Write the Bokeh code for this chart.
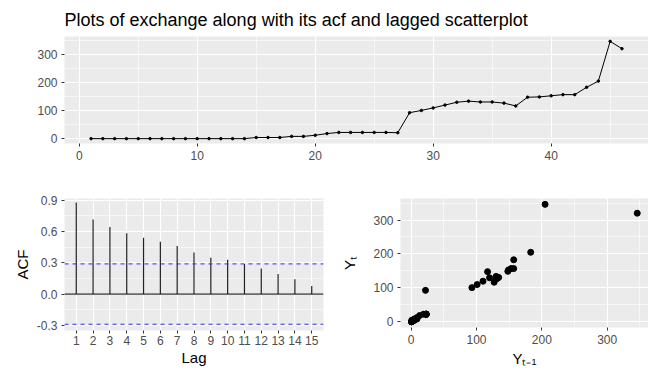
from bokeh.plotting import figure
from bokeh.layouts import column, row
from bokeh.models import FixedTicker, Range1d, Span, CustomJSTickFormatter
from bokeh.embed import file_html
from bokeh.resources import INLINE

# ---- data ----
time_index = list(range(1, 47))
exchange = [1, 1, 1, 1, 1, 1, 1, 1, 1, 1, 1, 1, 1, 1,
            5, 5, 5, 9, 9, 13, 19, 23, 23, 23, 23, 23, 22,
            93, 101, 110, 120, 130, 134, 131, 131, 127, 117,
            148, 149, 153, 157, 157, 183, 205, 346, 320]
acf_lags = list(range(1, 16))
acf_values = [0.877, 0.714, 0.642, 0.582, 0.540, 0.501, 0.460, 0.399,
              0.347, 0.328, 0.289, 0.244, 0.193, 0.141, 0.077]
conf_limit = 0.289
lag_prev = exchange[:-1]
lag_curr = exchange[1:]

title_text = "Plots of exchange along with its acf and lagged scatterplot"

FONT = "Liberation Sans"


def style(p, xt, xminor, yt, yminor):
    p.background_fill_color = "#EBEBEB"
    p.border_fill_color = "white"
    p.outline_line_color = None
    p.xaxis.ticker = FixedTicker(ticks=xt, minor_ticks=xminor)
    p.yaxis.ticker = FixedTicker(ticks=yt, minor_ticks=yminor)
    p.xgrid.ticker = FixedTicker(ticks=xt, minor_ticks=xminor)
    p.ygrid.ticker = FixedTicker(ticks=yt, minor_ticks=yminor)
    for g in (p.xgrid, p.ygrid):
        g.grid_line_color = "white"
        g.grid_line_width = 1.1
        g.minor_grid_line_color = "white"
        g.minor_grid_line_width = 0.55
    for ax in p.axis:
        ax.axis_line_color = None
        ax.major_tick_line_color = "#333333"
        ax.major_tick_out = 3
        ax.major_tick_in = 0
        ax.minor_tick_line_color = None
        ax.major_label_text_color = "#4D4D4D"
        ax.major_label_text_font = FONT
        ax.major_label_text_font_size = "12px"
        ax.major_label_standoff = 3
        ax.axis_label_text_font = FONT
        ax.axis_label_text_font_style = "normal"
        ax.axis_label_text_font_size = "15px"
        ax.axis_label_text_color = "black"
        ax.axis_label_standoff = 3


# ---- top: time series ----
p1 = figure(width=648, height=178, output_backend="svg", toolbar_location=None,
            x_range=Range1d(-1.25, 48.25), y_range=Range1d(-16.25, 363.25),
            min_border_left=64, min_border_right=0, min_border_top=35,
            min_border_bottom=35, title=title_text)
p1.title.text_font = FONT
p1.title.text_font_size = "18px"
p1.title.text_font_style = "normal"
p1.title.text_color = "black"
p1.title.align = "left"
p1.title.standoff = 14
style(p1, [0, 10, 20, 30, 40], [5, 15, 25, 35, 45], [0, 100, 200, 300], [50, 150, 250, 350])
p1.line(time_index, exchange, line_color="black", line_width=1)
p1.scatter(time_index, exchange, size=2.5, color="black")

# ---- bottom left: ACF ----
p2 = figure(width=338, height=195, output_backend="svg", toolbar_location=None,
            x_range=Range1d(0.3, 15.7), y_range=Range1d(-0.349, 0.916),
            min_border_left=64, min_border_right=15, min_border_top=20,
            min_border_bottom=43)
style(p2, acf_lags, [], [-0.3, 0.0, 0.3, 0.6, 0.9], [-0.15, 0.15, 0.45, 0.75])
p2.xaxis.major_label_standoff = 2
p2.xaxis.axis_label_standoff = 1
p2.yaxis.formatter = CustomJSTickFormatter(code="return tick.toFixed(1);")
p2.xaxis.axis_label = "Lag"
p2.yaxis.axis_label = "ACF"
p2.add_layout(Span(location=0, dimension="width", line_color="black", line_width=1))
p2.add_layout(Span(location=conf_limit, dimension="width", line_color="#2B2BFF",
                   line_width=1, line_dash="4 4"))
p2.add_layout(Span(location=-conf_limit, dimension="width", line_color="#2B2BFF",
                   line_width=1, line_dash="4 4"))
p2.segment(x0=acf_lags, y0=[0] * len(acf_lags), x1=acf_lags, y1=acf_values,
           line_color="#222222", line_width=1.2)

# ---- bottom right: lagged scatter ----
p3 = figure(width=310, height=195, output_backend="svg", toolbar_location=None,
            x_range=Range1d(-16.25, 363.25), y_range=Range1d(-16.25, 363.25),
            min_border_left=58, min_border_right=0, min_border_top=20,
            min_border_bottom=46)
style(p3, [0, 100, 200, 300], [50, 150, 250, 350], [0, 100, 200, 300], [50, 150, 250, 350])
p3.xaxis.axis_label = "Y\u209c\u208b\u2081"
p3.yaxis.axis_label = "Y\u209c"
p3.yaxis.axis_label_standoff = 12
p3.scatter(lag_prev, lag_curr, size=6, color="black")

layout = column(p1, row(column(p2), column(p3)))
open("out.html", "w").write(file_html(layout, INLINE))
